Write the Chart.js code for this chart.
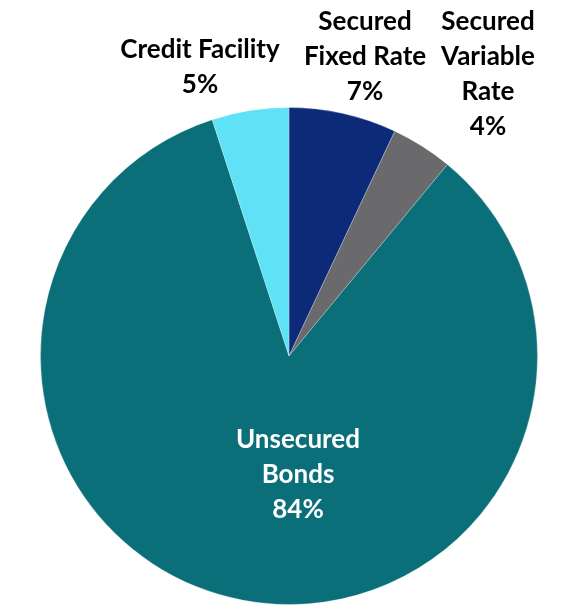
<!DOCTYPE html>
<html>
<head>
<meta charset="utf-8">
<script src="https://cdn.jsdelivr.net/npm/chart.js@4"></script>
<style>
    html, body { margin: 0; padding: 0; background: #fff; }
    #wrap { width: 567px; height: 613px; position: relative; }
</style>
</head>
<body>
<div id="wrap"><canvas id="debtChart"></canvas></div>
<script>
// 데이터
const categories = ['Secured Fixed Rate', 'Secured Variable Rate', 'Unsecured Bonds', 'Credit Facility'];
const shares = [7, 4, 84, 5];
const sliceColors = ['#0c2a78', '#6a6a6c', '#0b6f7a', '#5fe1f6'];

// 라벨 줄 (슬라이스 순서대로)
const labelLines = [
    ['Secured', 'Fixed Rate', '7%'],
    ['Secured', 'Variable', 'Rate', '4%'],
    ['Unsecured', 'Bonds', '84%'],
    ['Credit Facility', '5%']
];
// 라벨 위치와 색
const labelPos = [
    { x: 365, y: 22, color: '#000' },
    { x: 488, y: 22, color: '#000' },
    { x: 298, y: 440, color: '#fff' },
    { x: 200, y: 50, color: '#000' }
];

const labelPlugin = {
    id: 'sliceLabels',
    afterDatasetsDraw(chart) {
        const ctx = chart.ctx;
        ctx.save();
        ctx.font = 'bold 26px Lato';
        ctx.textAlign = 'center';
        ctx.textBaseline = 'middle';
        labelLines.forEach((lines, i) => {
            const p = labelPos[i];
            ctx.fillStyle = p.color;
            lines.forEach((line, j) => {
                ctx.fillText(line, p.x, p.y + j * 35);
            });
        });
        ctx.restore();
    }
};

new Chart(document.getElementById('debtChart'), {
    type: 'pie',
    data: {
        labels: categories,
        datasets: [{
            data: shares,
            backgroundColor: sliceColors,
            borderColor: 'rgba(255,255,255,0.25)',
            borderWidth: 1
        }]
    },
    options: {
        responsive: true,
        maintainAspectRatio: false,
        animation: false,
        layout: {
            padding: { top: 107, bottom: 8, left: 40, right: 29 }
        },
        plugins: {
            legend: { display: false },
            tooltip: { enabled: false }
        }
    },
    plugins: [labelPlugin]
});
</script>
</body>
</html>
